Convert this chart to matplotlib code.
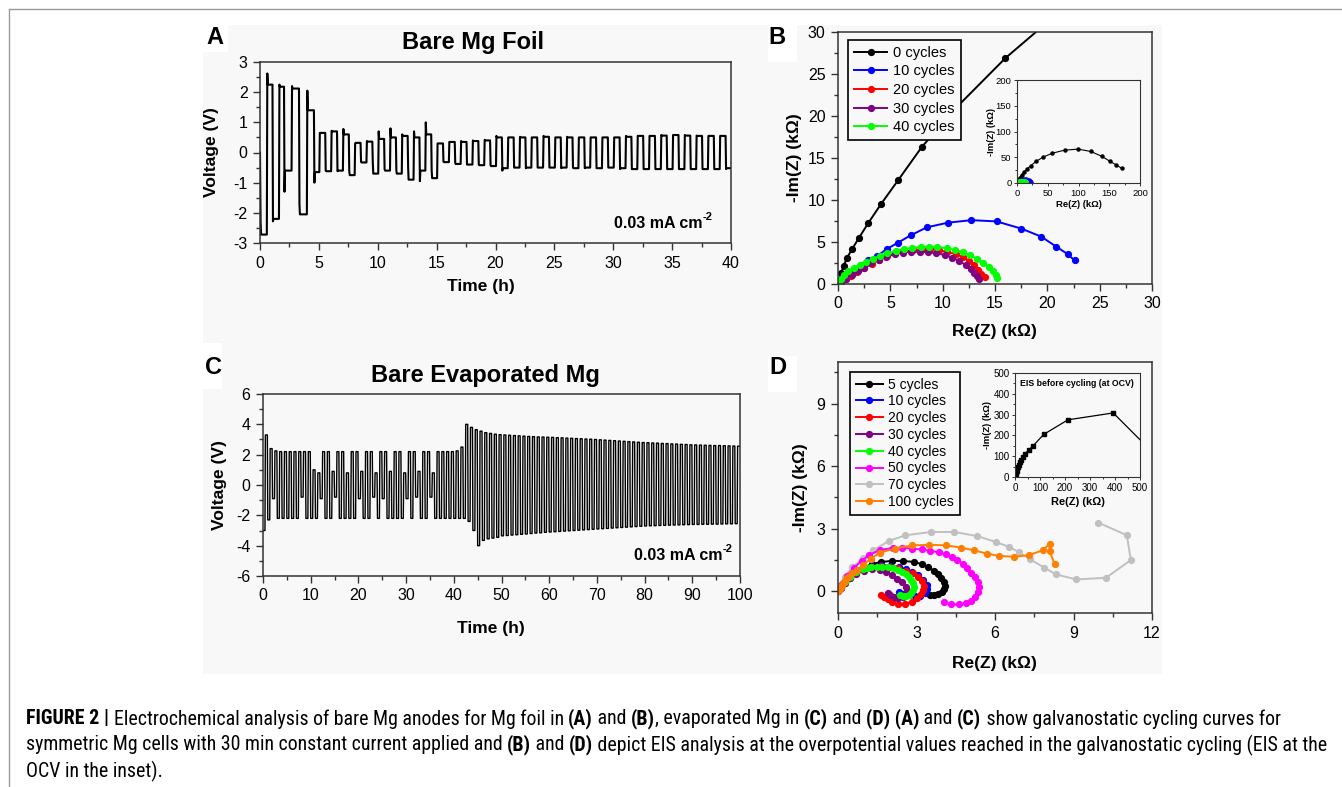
import numpy as np
import matplotlib
matplotlib.use("Agg")
import matplotlib.pyplot as plt
from matplotlib.ticker import MultipleLocator
from matplotlib.patches import Rectangle
from matplotlib.lines import Line2D
from matplotlib import font_manager

W, H = 1342, 787

plt.rcParams['font.family'] = ['Liberation Sans', 'DejaVu Sans']
plt.rcParams['axes.unicode_minus'] = False

# ---------- (A) bare Mg foil, galvanostatic cycling ----------
# each segment: start time (h), first voltage, plateau voltage
A_start = (0.0, 0.0)
A_t0 = [0.05, 0.62, 1.10, 1.65, 2.08, 2.72, 3.35, 4.02, 4.62] + list(np.arange(5.08, 40, 0.5))
A_v0 = [-2.3, 2.62, -2.28, 2.25, -1.3, 2.2, -1.7, 2.05, -1.0,
        0.65, -0.6, 0.72, -0.62, 0.78, -0.62, 0.3, -0.3, 0.38, -0.35,
        0.7, -0.55, 0.8, -0.6, 0.6, -0.5, 0.7, -0.95, 1.0, -0.6,
        0.3, -0.3, 0.35, -0.35, 0.38, -0.4, 0.4, -0.4, 0.42, -0.42,
        0.55, -0.6, 0.5, -0.5, 0.52, -0.52, 0.5, -0.5, 0.55, -0.5,
        0.5, -0.52, 0.52, -0.5, 0.5, -0.52, 0.5, -0.52, 0.5, -0.5,
        0.5, -0.55, 0.55, -0.55, 0.55, -0.55, 0.55, -0.55, 0.58, -0.55,
        0.58, -0.55, 0.58, -0.55, 0.56, -0.55, 0.55, -0.55, 0.55, -0.55]
A_v1 = [-2.72, 2.25, -2.2, 2.18, -0.6, 2.12, -2.05, 1.4, -0.65,
        0.65, -0.62, 0.7, -0.6, 0.6, -0.75, 0.32, -0.33, 0.36, -0.7,
        0.45, -0.6, 0.5, -0.7, 0.55, -0.9, 0.5, -0.6, 0.6, -0.85,
        0.3, -0.32, 0.35, -0.38, 0.35, -0.4, 0.38, -0.42, 0.4, -0.45,
        0.5, -0.52, 0.5, -0.5, 0.5, -0.5, 0.5, -0.5, 0.52, -0.5,
        0.5, -0.5, 0.5, -0.52, 0.5, -0.5, 0.5, -0.52, 0.5, -0.5,
        0.5, -0.52, 0.52, -0.55, 0.55, -0.55, 0.55, -0.55, 0.56, -0.55,
        0.58, -0.55, 0.56, -0.55, 0.55, -0.55, 0.55, -0.55, 0.55, -0.52]

# ---------- (C) bare evaporated Mg, plateau per half cycle ----------
C_hi = [3.3, 2.4, 2.25, 2.2, 2.2, 2.2, 2.2, 2.2, 2.2, 2.2,
        1.0, 0.8, 2.2, 2.2, 0.9, 2.2, 2.2, 0.8, 2.2, 2.2,
        0.9, 2.2, 2.2, 0.8, 2.2, 2.2, 0.9, 2.2, 2.2, 0.8,
        2.2, 2.2, 0.9, 2.2, 2.2, 0.8, 2.2, 2.2, 2.2, 2.2,
        2.25, 2.5, 4.0, 3.8, 3.65, 3.55, 3.45, 3.4, 3.35, 3.32,
        3.3, 3.28, 3.26, 3.24, 3.22, 3.2, 3.19, 3.17, 3.16, 3.15,
        3.14, 3.12, 3.11, 3.09, 3.08, 3.06, 3.05, 3.03, 3.02, 3.0,
        2.98, 2.96, 2.94, 2.92, 2.9, 2.88, 2.86, 2.84, 2.82, 2.8,
        2.79, 2.77, 2.76, 2.74, 2.73, 2.71, 2.7, 2.68, 2.67, 2.65,
        2.64, 2.63, 2.62, 2.61, 2.6, 2.6, 2.59, 2.58, 2.57, 2.56]
C_lo = [-3.0, -2.3, -0.9, -2.2, -2.2, -2.2, -2.2, -2.2, -0.8, -2.2,
        -2.2, -2.2, -0.9, -2.2, -2.2, -0.8, -2.2, -2.2, -2.2, -2.2,
        -0.9, -2.2, -2.2, -0.8, -2.2, -0.9, -2.2, -2.2, -2.2, -2.2,
        -0.9, -2.2, -0.8, -2.2, -2.2, -0.8, -2.2, -2.2, -2.2, -2.2,
        -2.2, -2.2, -2.2, -2.4, -3.0, -4.0, -3.65, -3.55, -3.5, -3.45,
        -3.35, -3.33, -3.3, -3.28, -3.25, -3.23, -3.2, -3.17, -3.15, -3.12,
        -3.1, -3.08, -3.06, -3.04, -3.02, -3.0, -2.98, -2.96, -2.94, -2.92,
        -2.9, -2.88, -2.86, -2.84, -2.82, -2.8, -2.78, -2.76, -2.74, -2.72,
        -2.7, -2.69, -2.68, -2.67, -2.66, -2.65, -2.64, -2.63, -2.62, -2.61,
        -2.6, -2.6, -2.59, -2.59, -2.58, -2.58, -2.57, -2.56, -2.56, -2.55]

# ---------- (B) EIS of Mg foil (kOhm) ----------
B_re_0 = [0, 0.1, 0.3, 0.55, 0.83, 1.35, 1.99, 2.89, 4.1, 5.77, 8.0, 11.3, 16.0, 22.3,
          31.5, 42.4, 57.6, 77.7, 99.5, 120, 137.5, 151, 161, 170]
B_im_0 = [0, 0.5, 1.3, 2.2, 3.05, 4.16, 5.47, 7.25, 9.5, 12.4, 16.3, 21.0, 26.9, 33.6,
          42.3, 50.2, 58, 63.8, 65.8, 61.2, 52.1, 42.3, 35.2, 28.7]
B_re_10 = [0, 0.1, 0.4, 0.9, 1.5, 2.2, 2.9, 3.7, 4.65, 5.7, 6.95, 8.5, 10.5, 12.75,
           15.15, 17.5, 19.4, 20.85, 21.95, 22.6]
B_im_10 = [0, 0.2, 0.7, 1.2, 1.75, 2.3, 2.8, 3.3, 4.15, 4.9, 5.8, 6.75, 7.3, 7.6,
           7.45, 6.6, 5.65, 4.45, 3.55, 2.8]
B_re_20 = [0, 0.32, 0.8, 1.28, 1.86, 2.5, 3.21, 3.91, 4.65, 5.45, 6.25, 7.12, 8.02,
           8.82, 9.62, 10.43, 11.23, 11.93, 12.51, 12.99, 13.38, 13.63, 14.05]
B_im_20 = [0, 0.2, 0.59, 0.99, 1.39, 1.86, 2.38, 2.89, 3.29, 3.65, 3.88, 4.04, 4.16,
           4.16, 4.04, 3.84, 3.57, 3.21, 2.77, 2.26, 1.7, 1.25, 0.87]
B_re_30 = [0, 0.3, 0.8, 1.3, 1.9, 2.5, 3.2, 3.9, 4.6, 5.4, 6.2, 7.0, 7.8, 8.6, 9.4,
           10.2, 10.9, 11.6, 12.2, 12.7, 13.0, 13.3, 13.45]
B_im_30 = [0, 0.25, 0.65, 1.05, 1.5, 1.95, 2.45, 2.9, 3.25, 3.55, 3.75, 3.85, 3.85,
           3.8, 3.65, 3.45, 3.15, 2.75, 2.25, 1.75, 1.3, 0.9, 0.6]
B_re_40 = [0, 0.1, 0.3, 0.6, 1.0, 1.5, 2.1, 2.7, 3.3, 4.0, 4.7, 5.5, 6.3, 7.1, 7.9,
           8.7, 9.5, 10.4, 11.2, 11.9, 12.6, 13.3, 13.9, 14.4, 14.8, 15.1, 15.2]
B_im_40 = [0, 0.15, 0.6, 1.1, 1.5, 1.9, 2.3, 2.65, 3.0, 3.35, 3.65, 3.95, 4.15, 4.3,
           4.4, 4.45, 4.4, 4.25, 4.05, 3.8, 3.45, 3.0, 2.5, 2.0, 1.5, 1.05, 0.7]
B_labels = ['0 cycles', '10 cycles', '20 cycles', '30 cycles', '40 cycles']
B_colors = ['#000000', '#0000ff', '#ff0000', '#800080', '#00ff00']

# ---------- (D) EIS of evaporated Mg (kOhm) ----------
D_re_5 = [0, 0.1, 0.25, 0.45, 0.7, 1.0, 1.3, 1.65, 2.05, 2.5, 2.9, 3.2, 3.45, 3.65,
          3.82, 3.95, 4.04, 4.08, 4.06, 3.97, 3.82, 3.65, 3.5]
D_im_5 = [0, 0.2, 0.45, 0.7, 0.95, 1.15, 1.3, 1.4, 1.45, 1.45, 1.4, 1.3, 1.15, 0.98,
          0.8, 0.62, 0.45, 0.27, 0.1, -0.05, -0.15, -0.2, -0.2]
D_re_10 = [0, 0.1, 0.25, 0.45, 0.7, 1.0, 1.3, 1.65, 2.0, 2.35, 2.6, 2.82, 3.05, 3.25,
           3.4, 3.42, 3.33, 3.15, 2.95, 2.72, 2.5, 2.32]
D_im_10 = [0, 0.18, 0.42, 0.68, 0.9, 1.08, 1.2, 1.25, 1.22, 1.15, 1.05, 0.93, 0.77,
           0.55, 0.3, 0.08, -0.1, -0.22, -0.25, -0.2, -0.12, -0.05]
D_re_20 = [0, 0.1, 0.25, 0.45, 0.7, 1.0, 1.3, 1.65, 2.0, 2.3, 2.6, 2.85, 3.05, 3.2,
           3.27, 3.25, 3.17, 3.02, 2.82, 2.57, 2.3, 2.08, 1.9, 1.75, 1.65]
D_im_20 = [0, 0.17, 0.4, 0.65, 0.88, 1.05, 1.15, 1.2, 1.17, 1.1, 0.98, 0.85, 0.68,
           0.48, 0.27, 0.05, -0.15, -0.35, -0.5, -0.6, -0.6, -0.5, -0.38, -0.27, -0.18]
D_re_30 = [0, 0.1, 0.25, 0.45, 0.7, 1.0, 1.3, 1.6, 1.85, 2.05, 2.25, 2.45, 2.6, 2.65,
           2.6, 2.47, 2.3, 2.15, 2.0, 1.9]
D_im_30 = [0, 0.17, 0.38, 0.62, 0.83, 0.98, 1.05, 1.02, 0.92, 0.78, 0.6, 0.42, 0.22,
           0.02, -0.15, -0.3, -0.35, -0.3, -0.2, -0.1]
D_re_40 = [0, 0.1, 0.25, 0.45, 0.7, 0.95, 1.1, 1.28, 1.48, 1.69, 1.9, 2.1, 2.28, 2.44,
           2.58, 2.7, 2.8, 2.85, 2.9, 2.88, 2.8, 2.7, 2.6, 2.48, 2.38]
D_im_40 = [0, 0.18, 0.42, 0.68, 0.92, 1.07, 1.12, 1.17, 1.18, 1.17, 1.14, 1.1, 1.02,
           0.93, 0.82, 0.69, 0.53, 0.38, 0.2, 0.05, -0.08, -0.17, -0.22, -0.22, -0.18]
D_re_50 = [0, 0.15, 0.35, 0.6, 0.9, 1.2, 1.6, 2.1, 2.45, 2.82, 3.2, 3.53, 3.85, 4.11,
           4.35, 4.56, 4.77, 4.94, 5.1, 5.24, 5.35, 5.39, 5.35, 5.25, 5.1, 4.9, 4.62,
           4.3, 4.04]
D_im_50 = [0, 0.35, 0.75, 1.1, 1.45, 1.75, 1.97, 2.08, 2.08, 2.04, 2.0, 1.94, 1.86,
           1.76, 1.63, 1.48, 1.3, 1.09, 0.89, 0.69, 0.45, 0.2, -0.05, -0.3, -0.47,
           -0.58, -0.64, -0.64, -0.51]
D_re_70 = [0, 0.1, 0.25, 0.55, 0.96, 1.35, 1.93, 2.57, 3.56, 4.45, 5.33, 6.03, 6.55,
           6.9, 7.34, 7.89, 8.34, 9.11, 10.24, 11.19, 11.04, 9.95]
D_im_70 = [0, 0.3, 0.7, 1.15, 1.57, 1.96, 2.4, 2.68, 2.84, 2.84, 2.64, 2.36, 2.12,
           1.88, 1.53, 1.12, 0.8, 0.56, 0.64, 1.49, 2.68, 3.29]
D_re_100 = [0, 0.03, 0.06, 0.1, 0.15, 0.22, 0.3, 0.4, 0.55, 0.71, 0.95, 1.25, 1.6,
            2.18, 2.82, 3.47, 4.11, 4.69, 5.2, 5.69, 6.16, 6.74, 7.29, 7.83, 8.09,
            8.09, 8.28]
D_im_100 = [0, 0.05, 0.12, 0.2, 0.3, 0.42, 0.56, 0.7, 0.86, 1.0, 1.25, 1.55, 1.85,
            2.04, 2.2, 2.22, 2.2, 2.09, 1.96, 1.8, 1.69, 1.65, 1.73, 1.96, 2.28, 1.93,
            1.28]
D_labels = ['5 cycles', '10 cycles', '20 cycles', '30 cycles', '40 cycles',
            '50 cycles', '70 cycles', '100 cycles']
D_colors = ['#000000', '#0000ff', '#ff0000', '#800080', '#00ff00', '#ff00ff',
            '#c0c0c0', '#ff8000']
D_ocv_re = [0.5, 1.5, 3, 5, 7, 9, 12, 15, 19, 24, 31, 40, 54, 71, 115, 212, 393, 545]
D_ocv_im = [2, 6, 13, 22, 31, 41, 49, 57, 70, 82, 96, 111, 130, 148, 205, 275, 308, 125]

# ---------- helpers ----------
fig = plt.figure(figsize=(W / 100, H / 100), dpi=100)
fig.patch.set_facecolor('white')
renderer = fig.canvas.get_renderer()


def px_axes(l, t, r, b):
    ax = fig.add_axes([l / W, 1 - b / H, (r - l) / W, (b - t) / H])
    ax.set_facecolor('none')
    return ax


def ftext(x, y, s, **kw):
    return fig.text(x / W, 1 - y / H, s, **kw)


def style(ax, xmaj, ymaj, size=11.5, big=True):
    ax.xaxis.set_major_locator(MultipleLocator(xmaj))
    ax.xaxis.set_minor_locator(MultipleLocator(xmaj / 2))
    ax.yaxis.set_major_locator(MultipleLocator(ymaj))
    ax.yaxis.set_minor_locator(MultipleLocator(ymaj / 2))
    ax.tick_params(which='both', direction='out', top=False, right=False,
                   labelsize=size, color='#333333', width=1 if big else 0.7,
                   pad=4 if big else 1.5)
    ax.tick_params(which='major', length=5 if big else 2.5)
    ax.tick_params(which='minor', length=3 if big else 1.5)
    for sp in ax.spines.values():
        sp.set_linewidth(1.1 if big else 0.8)
        sp.set_color('#333333')


def wave(t0, v0, v1, t_end, ramp):
    xs, ys = [], []
    bounds = list(t0[1:]) + [t_end]
    for a, b, s, e in zip(t0, bounds, v0, v1):
        xs += [a, a + ramp, b - ramp]
        ys += [s, e, e]
    return xs, ys


def place_label(ax, which, x, y, text, size=12.5):
    if which == 'x':
        ax.set_xlabel(text, fontsize=size, fontweight='bold')
        ax.xaxis.set_label_coords(x, y)
        ax.xaxis.label.set_verticalalignment('center')
    else:
        ax.set_ylabel(text, fontsize=size, fontweight='bold')
        ax.yaxis.set_label_coords(x, y)
        ax.yaxis.label.set_verticalalignment('center')


def current_note(x_right, y):
    sup = ftext(x_right, y - 6, '-2', fontsize=8, fontweight='bold', ha='right',
                va='center')
    w = sup.get_window_extent(renderer).width
    ftext(x_right - w - 0.5, y, '0.03 mA cm', fontsize=11.5, fontweight='bold',
          ha='right', va='center')


# background of the figure panel and frame lines
fig.patches.append(Rectangle((203 / W, 1 - 674 / H), (1162 - 203) / W, (674 - 25) / H,
                             transform=fig.transFigure, facecolor='#f8f8f8',
                             edgecolor='none', zorder=-10))
for (l, t, r, b) in [(203, 25, 228, 52), (768, 25, 797, 62), (203, 343, 222, 389),
                     (768, 356, 797, 392)]:
    fig.patches.append(Rectangle((l / W, 1 - b / H), (r - l) / W, (b - t) / H,
                                 transform=fig.transFigure, facecolor='white',
                                 edgecolor='none', zorder=-9))
fig.add_artist(Line2D([9 / W, 1], [1 - 9 / H, 1 - 9 / H], color='#9a9a9a', lw=1))
fig.add_artist(Line2D([9 / W, 9 / W], [1 - 9 / H, 0], color='#9a9a9a', lw=1))

# ---------- panel A ----------
axA = px_axes(260, 62, 731, 243)
ta, va = wave(A_t0, A_v0, A_v1, 40, 0.04)
axA.plot([A_start[0]] + ta, [A_start[1]] + va, color='black', lw=1.5)
axA.set_xlim(0, 40)
axA.set_ylim(-3, 3)
style(axA, 5, 1)
place_label(axA, 'x', 0.47, -0.243, 'Time (h)')
place_label(axA, 'y', -0.102, 0.5, 'Voltage (V)')
current_note(713, 223)
ftext(473, 42, 'Bare Mg Foil', fontsize=17, fontweight='bold', ha='center', va='center')
ftext(215, 38, 'A', fontsize=17, fontweight='bold', ha='center', va='center')

# ---------- panel C ----------
axC = px_axes(263, 394, 740, 576)
C_t0 = np.arange(0, 100, 0.5)
C_v = np.ravel(np.column_stack([C_lo, C_hi]))
tc, vc = wave(C_t0, C_v, C_v, 100, 0.09)
axC.plot(tc, vc, color='black', lw=1.0)
axC.set_xlim(0, 100)
axC.set_ylim(-6, 6)
style(axC, 10, 2)
place_label(axC, 'x', 0.478, -0.286, 'Time (h)')
place_label(axC, 'y', -0.092, 0.5, 'Voltage (V)')
current_note(733, 555)
ftext(485, 375, 'Bare Evaporated Mg', fontsize=17, fontweight='bold', ha='center',
      va='center')
ftext(213, 367, 'C', fontsize=17, fontweight='bold', ha='center', va='center')

# ---------- panel B ----------
axB = px_axes(838, 32, 1152, 284)
B_re = [B_re_0, B_re_10, B_re_20, B_re_30, B_re_40]
B_im = [B_im_0, B_im_10, B_im_20, B_im_30, B_im_40]
for re, im, lab, col in zip(B_re, B_im, B_labels, B_colors):
    axB.plot(re, im, '-o', color=col, lw=1.4, ms=4.2, label=lab)
axB.set_xlim(0, 30)
axB.set_ylim(0, 30)
style(axB, 5, 5)
place_label(axB, 'x', 0.497, -0.187, 'Re(Z) (k\u03a9)')
place_label(axB, 'y', -0.137, 0.5, '-Im(Z) (k\u03a9)')
leg = axB.legend(loc='upper left', bbox_to_anchor=(10 / 314, 1 - 8 / 252), fontsize=10.5,
                 fancybox=False, edgecolor='black', facecolor='#f8f8f8', framealpha=1,
                 handlelength=2.3, handletextpad=0.4, labelspacing=0.32, borderpad=0.4,
                 borderaxespad=0)
leg.get_frame().set_linewidth(1.2)
ftext(777, 37, 'B', fontsize=17, fontweight='bold', ha='center', va='center')

insB = px_axes(1017, 80, 1140, 183)
for re, im, col in zip(B_re, B_im, B_colors):
    insB.plot(re, im, '-o', color=col, lw=0.8, ms=2.2)
insB.set_xlim(0, 200)
insB.set_ylim(0, 200)
style(insB, 50, 50, size=6.8, big=False)
place_label(insB, 'x', 0.5, -0.21, 'Re(Z) (k\u03a9)', size=6.8)
place_label(insB, 'y', -0.21, 0.5, '-Im(Z) (k\u03a9)', size=6.8)

# ---------- panel D ----------
axD = px_axes(838, 362, 1152, 613)
D_re = [D_re_5, D_re_10, D_re_20, D_re_30, D_re_40, D_re_50, D_re_70, D_re_100]
D_im = [D_im_5, D_im_10, D_im_20, D_im_30, D_im_40, D_im_50, D_im_70, D_im_100]
order = [6, 0, 1, 2, 3, 4, 5, 7]
lines = {}
for i in order:
    ln, = axD.plot(D_re[i], D_im[i], '-o', color=D_colors[i], lw=1.4, ms=4.2,
                   label=D_labels[i])
    lines[i] = ln
axD.set_xlim(0, 12)
axD.set_ylim(-1.05, 11)
style(axD, 3, 3)
axD.set_yticks([0, 3, 6, 9])
place_label(axD, 'x', 0.497, -0.2, 'Re(Z) (k\u03a9)')
place_label(axD, 'y', -0.121, 0.5, '-Im(Z) (k\u03a9)')
legD = axD.legend([lines[i] for i in range(8)], D_labels, loc='upper left',
                  bbox_to_anchor=(12 / 314, 1 - 10 / 251), fontsize=10,
                  fancybox=False, edgecolor='black', facecolor='#f8f8f8', framealpha=1,
                  handlelength=2.0, handletextpad=0.35, labelspacing=0.2,
                  borderpad=0.4, borderaxespad=0)
legD.get_frame().set_linewidth(1.2)
ftext(778, 368, 'D', fontsize=17, fontweight='bold', ha='center', va='center')

insD = px_axes(1015, 373, 1140, 477)
insD.plot(D_ocv_re, D_ocv_im, '-s', color='black', lw=0.9, ms=2.4)
insD.set_xlim(0, 500)
insD.set_ylim(0, 500)
style(insD, 100, 100, size=7, big=False)
insD.xaxis.set_minor_locator(MultipleLocator(50))
place_label(insD, 'x', 0.5, -0.24, 'Re(Z) (k\u03a9)', size=8)
place_label(insD, 'y', -0.22, 0.5, '-Im(Z) (k\u03a9)', size=6.8)
insD.text(0.04, 0.9, 'EIS before cycling (at OCV)', transform=insD.transAxes,
          fontsize=6.3, fontweight='bold', va='center')

# ---------- caption ----------
names = {f.name for f in font_manager.fontManager.ttflist}
cap_font = next((f for f in ['Liberation Sans Narrow', 'Roboto Condensed',
                             'Liberation Sans'] if f in names), 'DejaVu Sans')

cap_lines = [
    [("FIGURE 2 | ", True), ("Electrochemical analysis of bare Mg anodes for Mg foil in ", False),
     ("(A)", True), (" and ", False), ("(B)", True), (", evaporated Mg in ", False),
     ("(C)", True), (" and ", False), ("(D) (A)", True), (" and ", False), ("(C)", True),
     (" show galvanostatic cycling curves for", False)],
    [("symmetric Mg cells with 30 min constant current applied and ", False),
     ("(B)", True), (" and ", False), ("(D)", True),
     (" depict EIS analysis at the overpotential values reached in the galvanostatic cycling (EIS at the", False)],
    [("OCV in the inset).", False)],
]
cap_y = [719, 745, 771]


def run_width(s, bold, size):
    t1 = fig.text(0, 0, '|' + s + '|', fontsize=size, family=cap_font,
                  fontweight='bold' if bold else 'normal')
    t2 = fig.text(0, 0, '||', fontsize=size, family=cap_font,
                  fontweight='bold' if bold else 'normal')
    w = t1.get_window_extent(renderer).width - t2.get_window_extent(renderer).width
    t1.remove()
    t2.remove()
    return w


ref_w = sum(run_width(s, b, 10) for s, b in cap_lines[1])
cap_size = 10 * (1296 / ref_w)

for runs, y in zip(cap_lines, cap_y):
    x = 26
    for s, b in runs:
        ftext(x, y, s, fontsize=cap_size, family=cap_font,
              fontweight='bold' if b else 'normal', va='center', ha='left')
        x += run_width(s, b, cap_size)

fig.savefig('out.png', dpi=100)
